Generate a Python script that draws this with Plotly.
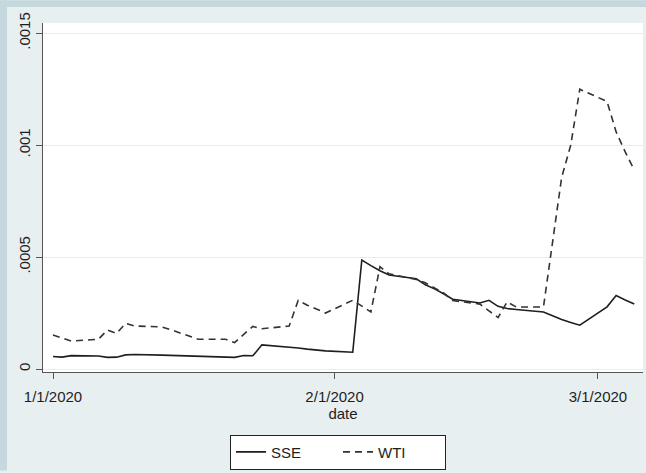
import plotly.graph_objects as go

# ---- data ----
sse_dates = ["2020-01-01", "2020-01-02", "2020-01-03", "2020-01-06", "2020-01-07", "2020-01-08",
             "2020-01-09", "2020-01-10", "2020-01-13", "2020-01-14", "2020-01-15", "2020-01-16",
             "2020-01-17", "2020-01-20", "2020-01-21", "2020-01-22", "2020-01-23", "2020-01-24",
             "2020-01-27", "2020-01-28", "2020-01-29", "2020-01-30", "2020-01-31", "2020-02-03",
             "2020-02-04", "2020-02-05", "2020-02-06", "2020-02-07", "2020-02-10", "2020-02-11",
             "2020-02-12", "2020-02-13", "2020-02-14", "2020-02-17", "2020-02-18", "2020-02-19",
             "2020-02-20", "2020-02-21", "2020-02-24", "2020-02-25", "2020-02-26", "2020-02-27",
             "2020-02-28", "2020-03-02", "2020-03-03", "2020-03-04", "2020-03-05"]
sse_values = [5.6e-5, 5.3e-5, 6.0e-5, 5.8e-5, 5.2e-5, 5.3e-5,
              6.3e-5, 6.5e-5, 6.2e-5, 6.1e-5, 6.0e-5, 5.7e-5,
              5.5e-5, 5.3e-5, 5.2e-5, 6.0e-5, 5.9e-5, 1.08e-4,
              1.0e-4, 9.4e-5, 8.9e-5, 8.4e-5, 8.1e-5, 7.5e-5,
              4.87e-4, 4.62e-4, 4.39e-4, 4.2e-4, 4.03e-4, 3.76e-4,
              3.58e-4, 3.36e-4, 3.12e-4, 2.95e-4, 3.07e-4, 2.8e-4,
              2.7e-4, 2.66e-4, 2.55e-4, 2.38e-4, 2.21e-4, 2.08e-4,
              1.96e-4, 2.78e-4, 3.28e-4, 3.08e-4, 2.9e-4]

wti_dates = ["2020-01-01", "2020-01-02", "2020-01-03", "2020-01-06", "2020-01-07", "2020-01-08",
             "2020-01-09", "2020-01-10", "2020-01-13", "2020-01-14", "2020-01-15", "2020-01-16",
             "2020-01-17", "2020-01-20", "2020-01-21", "2020-01-22", "2020-01-23", "2020-01-24",
             "2020-01-27", "2020-01-28", "2020-01-29", "2020-01-30", "2020-01-31", "2020-02-03",
             "2020-02-04", "2020-02-05", "2020-02-06", "2020-02-07", "2020-02-10", "2020-02-11",
             "2020-02-12", "2020-02-13", "2020-02-14", "2020-02-17", "2020-02-18", "2020-02-19",
             "2020-02-20", "2020-02-21", "2020-02-24", "2020-02-25", "2020-02-26", "2020-02-27",
             "2020-02-28", "2020-03-02", "2020-03-03", "2020-03-04", "2020-03-05"]
wti_values = [1.52e-4, 1.38e-4, 1.25e-4, 1.33e-4, 1.74e-4, 1.59e-4,
              2.04e-4, 1.92e-4, 1.88e-4, 1.75e-4, 1.6e-4, 1.45e-4,
              1.33e-4, 1.33e-4, 1.18e-4, 1.55e-4, 1.9e-4, 1.8e-4,
              1.92e-4, 3.07e-4, 2.85e-4, 2.68e-4, 2.5e-4, 3.07e-4,
              2.8e-4, 2.55e-4, 4.57e-4, 4.25e-4, 4.0e-4, 3.85e-4,
              3.62e-4, 3.4e-4, 3.06e-4, 2.9e-4, 2.6e-4, 2.3e-4,
              3.0e-4, 2.77e-4, 2.77e-4, 5.6e-4, 8.55e-4, 1.0e-3,
              1.25e-3, 1.195e-3, 1.059e-3, 9.7e-4, 8.88e-4]

x_tick_vals = ["2020-01-01", "2020-02-01", "2020-03-01"]
x_tick_text = ["1/1/2020", "2/1/2020", "3/1/2020"]
y_tick_vals = [0, 0.0005, 0.001, 0.0015]
y_tick_text = ["0", ".0005", ".001", ".0015"]

# ---- figure ----
FONT = "Liberation Sans, Arial, sans-serif"
INK = "#1e1e1e"

fig = go.Figure()
fig.add_trace(go.Scatter(x=sse_dates, y=sse_values, mode="lines", name="SSE",
                         line=dict(color=INK, width=1.6)))
fig.add_trace(go.Scatter(x=wti_dates, y=wti_values, mode="lines", name="WTI",
                         line=dict(color="#333333", width=1.6, dash="7px,5px")))

W, H = 646, 473
L, R, T, B = 43, 3, 23, 99
pw, ph = W - L - R, H - T - B


def px_x(x):
    return (x - L) / pw


def px_y(y):
    return (H - B - y) / ph


fig.update_layout(
    width=W, height=H,
    margin=dict(l=L, r=R, t=T, b=B, pad=0),
    paper_bgcolor="#e8eff1",
    plot_bgcolor="white",
    font=dict(family=FONT, size=15, color=INK),
    showlegend=True,
    legend=dict(orientation="h", x=px_x(338), xanchor="center", y=px_y(437), yanchor="top",
                bgcolor="white", bordercolor="#222222", borderwidth=1,
                font=dict(family=FONT, size=15, color=INK),
                entrywidth=62, entrywidthmode="pixels",
                tracegroupgap=0),
    shapes=[
        dict(type="rect", xref="paper", yref="paper", x0=px_x(0), x1=px_x(W), y0=px_y(7), y1=px_y(0),
             fillcolor="#c5d8dd", line=dict(width=0), layer="below"),
        dict(type="rect", xref="paper", yref="paper", x0=px_x(0), x1=px_x(7), y0=px_y(H), y1=px_y(0),
             fillcolor="#c5d8dd", line=dict(width=0), layer="below"),
    ],
)

fig.update_xaxes(
    type="date",
    range=["2019-12-30 21:35", "2020-03-05 23:00"],
    tickvals=x_tick_vals, ticktext=x_tick_text,
    ticks="outside", ticklen=6, tickcolor="#555555", tickwidth=1,
    ticklabelstandoff=5,
    showline=True, linecolor="#555555", linewidth=1, mirror=False,
    showgrid=False, zeroline=False,
    tickfont=dict(family=FONT, size=15, color=INK),
    title=dict(text="date", font=dict(family=FONT, size=15, color=INK), standoff=3),
)
fig.update_yaxes(
    range=[-1.33e-5, 0.0015457],
    tickvals=y_tick_vals, ticktext=y_tick_text,
    tickangle=-90,
    ticks="outside", ticklen=6, tickcolor="#555555", tickwidth=1,
    showline=True, linecolor="#555555", linewidth=1, mirror=False,
    showgrid=True, gridcolor="#e4eef0", gridwidth=1, zeroline=False,
    tickfont=dict(family=FONT, size=15, color=INK),
)

fig.write_html("out.html")
